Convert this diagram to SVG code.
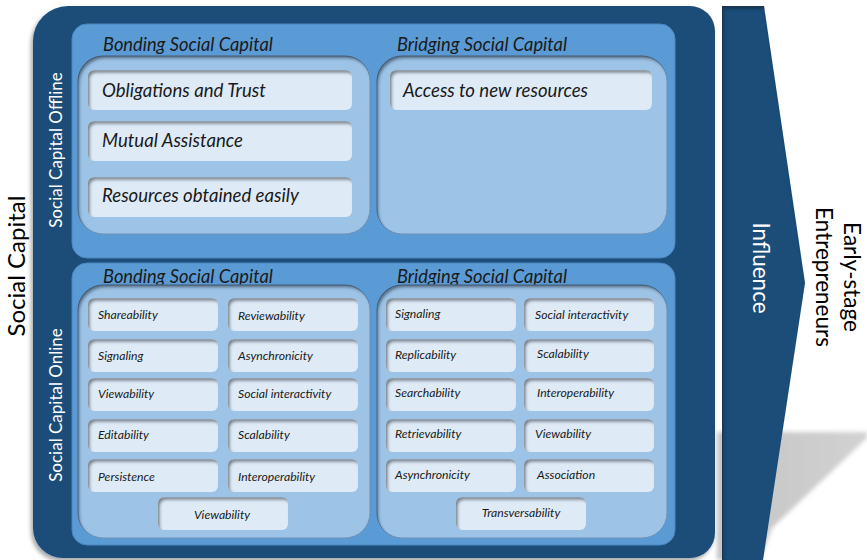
<svg xmlns="http://www.w3.org/2000/svg" width="867" height="560" viewBox="0 0 867 560">
<defs>
<filter id="inset" x="-10%" y="-10%" width="120%" height="120%">
<feComponentTransfer in="SourceAlpha"><feFuncA type="table" tableValues="1 0"/></feComponentTransfer>
<feGaussianBlur stdDeviation="1.6"/>
<feOffset dx="2" dy="2.5" result="ob"/>
<feFlood flood-color="#1c2c3c" flood-opacity="0.75"/>
<feComposite in2="ob" operator="in"/>
<feComposite in2="SourceAlpha" operator="in" result="sh"/>
<feMerge><feMergeNode in="SourceGraphic"/><feMergeNode in="sh"/></feMerge>
</filter>
<filter id="drop" x="-5%" y="-5%" width="110%" height="110%">
<feGaussianBlur in="SourceAlpha" stdDeviation="2"/>
<feOffset dx="-2" dy="3"/>
<feComponentTransfer><feFuncA type="linear" slope="0.35"/></feComponentTransfer>
<feMerge><feMergeNode/><feMergeNode in="SourceGraphic"/></feMerge>
</filter>
<filter id="blur"><feGaussianBlur stdDeviation="2"/></filter>
<linearGradient id="shg" x1="0" y1="0" x2="1" y2="0">
<stop offset="0" stop-color="#c4c4c4"/><stop offset="1" stop-color="#d2d2d2"/>
</linearGradient>
<style>
.dark{fill:#1f4e79}
.mid{fill:#5b9bd5;stroke:#4a86bf;stroke-width:1}
.light{fill:#9dc3e6;stroke:#6f93b8;stroke-width:1}
.item{fill:#deebf7}
.t{font-family:Lato,"Open Sans",sans-serif;font-style:italic;fill:#1a1a1a}
.h{font-size:18.3px}
.big{font-size:18.6px}
.sm{font-size:12.2px}
.wv{font-family:Lato,"Open Sans",sans-serif;fill:#ffffff;font-size:17px}
.inf{font-family:Lato,"Open Sans",sans-serif;fill:#ffffff;font-size:22.5px}
.bk{font-family:Lato,"Open Sans",sans-serif;fill:#000000}
.sc{font-size:24px}
.ee{font-size:22.5px}
</style>
</defs>

<polygon points="717,432 867,432 867,438 772,528 760,560 717,560" fill="url(#shg)" filter="url(#blur)"/>

<g id="social-capital">
<path class="dark" filter="url(#drop)" d="M68,6 H690 A25,25 0 0 1 715,31 V533 A25,25 0 0 1 690,558 H63 A30,30 0 0 1 33,528 V41 A35,35 0 0 1 68,6 Z"/>
<text class="bk sc" text-anchor="middle" transform="translate(25,266) rotate(-90)">Social Capital</text>
</g>

<g id="influence-arrow">
<polygon class="dark" filter="url(#inset)" points="722,6 764,6 805,283 763,560 722,560"/>
<text class="inf" text-anchor="middle" transform="translate(753,268) rotate(90)">Influence</text>
</g>

<g id="entrepreneurs">
<text class="bk ee" text-anchor="middle" transform="translate(844,277) rotate(90)">Early-stage</text>
<text class="bk ee" text-anchor="middle" transform="translate(816,277) rotate(90)">Entrepreneurs</text>
</g>

<g id="offline">
<rect class="mid" x="72" y="24" width="603" height="234" rx="15"/>
<text class="wv" text-anchor="middle" transform="translate(62,150) rotate(-90)">Social Capital Offline</text>
<text class="t h" x="103" y="51">Bonding Social Capital</text>
<text class="t h" x="397" y="51">Bridging Social Capital</text>
</g>

<g id="offline-bonding">
<rect class="light" filter="url(#inset)" x="78" y="56" width="292" height="178" rx="25"/>
<g id="obligations"><rect class="item" filter="url(#inset)" x="88" y="70" width="264" height="40" rx="6"/><text class="t big" x="102" y="97">Obligations and Trust</text></g>
<g id="mutual"><rect class="item" filter="url(#inset)" x="88" y="121" width="264" height="40" rx="6"/><text class="t big" x="102" y="147">Mutual Assistance</text></g>
<g id="resources"><rect class="item" filter="url(#inset)" x="88" y="177" width="264" height="40" rx="6"/><text class="t big" x="102" y="202">Resources obtained easily</text></g>
</g>

<g id="offline-bridging">
<rect class="light" filter="url(#inset)" x="377" y="56" width="290" height="178" rx="25"/>
<g id="access"><rect class="item" filter="url(#inset)" x="390" y="70" width="262" height="40" rx="6"/><text class="t big" x="403" y="97">Access to new resources</text></g>
</g>

<g id="online">
<rect class="mid" x="72" y="263" width="603" height="282" rx="15"/>
<text class="wv" text-anchor="middle" transform="translate(62,405) rotate(-90)">Social Capital Online</text>
<text class="t h" x="103" y="283">Bonding Social Capital</text>
<text class="t h" x="397" y="283">Bridging Social Capital</text>
</g>

<g id="online-bonding">
<rect class="light" filter="url(#inset)" x="78" y="285" width="292" height="253" rx="25"/>
<g id="b-shareability"><rect class="item" filter="url(#inset)" x="88" y="298" width="130" height="33" rx="6"/><text class="t sm" x="98" y="319">Shareability</text></g>
<g id="b-reviewability"><rect class="item" filter="url(#inset)" x="228" y="298" width="130" height="33" rx="6"/><text class="t sm" x="238" y="320">Reviewability</text></g>
<g id="b-signaling"><rect class="item" filter="url(#inset)" x="88" y="339" width="130" height="33" rx="6"/><text class="t sm" x="98" y="360">Signaling</text></g>
<g id="b-asynchronicity"><rect class="item" filter="url(#inset)" x="228" y="339" width="130" height="33" rx="6"/><text class="t sm" x="238" y="360">Asynchronicity</text></g>
<g id="b-viewability"><rect class="item" filter="url(#inset)" x="88" y="378" width="130" height="33" rx="6"/><text class="t sm" x="98" y="398">Viewability</text></g>
<g id="b-social"><rect class="item" filter="url(#inset)" x="228" y="378" width="130" height="33" rx="6"/><text class="t sm" x="238" y="398">Social interactivity</text></g>
<g id="b-editability"><rect class="item" filter="url(#inset)" x="88" y="419" width="130" height="33" rx="6"/><text class="t sm" x="98" y="439">Editability</text></g>
<g id="b-scalability"><rect class="item" filter="url(#inset)" x="228" y="419" width="130" height="33" rx="6"/><text class="t sm" x="238" y="439">Scalability</text></g>
<g id="b-persistence"><rect class="item" filter="url(#inset)" x="88" y="459" width="130" height="33" rx="6"/><text class="t sm" x="98" y="481">Persistence</text></g>
<g id="b-interoperability"><rect class="item" filter="url(#inset)" x="228" y="459" width="130" height="33" rx="6"/><text class="t sm" x="238" y="481">Interoperability</text></g>
<g id="b-viewability2"><rect class="item" filter="url(#inset)" x="158" y="497" width="130" height="33" rx="6"/><text class="t sm" x="222" y="519" text-anchor="middle">Viewability</text></g>
</g>

<g id="online-bridging">
<rect class="light" filter="url(#inset)" x="377" y="285" width="290" height="253" rx="25"/>
<g id="r-signaling"><rect class="item" filter="url(#inset)" x="386" y="298" width="130" height="33" rx="6"/><text class="t sm" x="395" y="318">Signaling</text></g>
<g id="r-social"><rect class="item" filter="url(#inset)" x="524" y="298" width="130" height="33" rx="6"/><text class="t sm" x="535" y="319">Social interactivity</text></g>
<g id="r-replicability"><rect class="item" filter="url(#inset)" x="386" y="339" width="130" height="33" rx="6"/><text class="t sm" x="395" y="359">Replicability</text></g>
<g id="r-scalability"><rect class="item" filter="url(#inset)" x="524" y="339" width="130" height="33" rx="6"/><text class="t sm" x="537" y="358">Scalability</text></g>
<g id="r-searchability"><rect class="item" filter="url(#inset)" x="386" y="378" width="130" height="33" rx="6"/><text class="t sm" x="395" y="397">Searchability</text></g>
<g id="r-interoperability"><rect class="item" filter="url(#inset)" x="524" y="378" width="130" height="33" rx="6"/><text class="t sm" x="537" y="397">Interoperability</text></g>
<g id="r-retrievability"><rect class="item" filter="url(#inset)" x="386" y="419" width="130" height="33" rx="6"/><text class="t sm" x="395" y="438">Retrievability</text></g>
<g id="r-viewability"><rect class="item" filter="url(#inset)" x="524" y="419" width="130" height="33" rx="6"/><text class="t sm" x="535" y="438">Viewability</text></g>
<g id="r-asynchronicity"><rect class="item" filter="url(#inset)" x="386" y="459" width="130" height="33" rx="6"/><text class="t sm" x="395" y="479">Asynchronicity</text></g>
<g id="r-association"><rect class="item" filter="url(#inset)" x="524" y="459" width="130" height="33" rx="6"/><text class="t sm" x="537" y="479">Association</text></g>
<g id="r-transversability"><rect class="item" filter="url(#inset)" x="456" y="497" width="130" height="33" rx="6"/><text class="t sm" x="521" y="517" text-anchor="middle">Transversability</text></g>
</g>

<g id="connectors"></g>
</svg>
